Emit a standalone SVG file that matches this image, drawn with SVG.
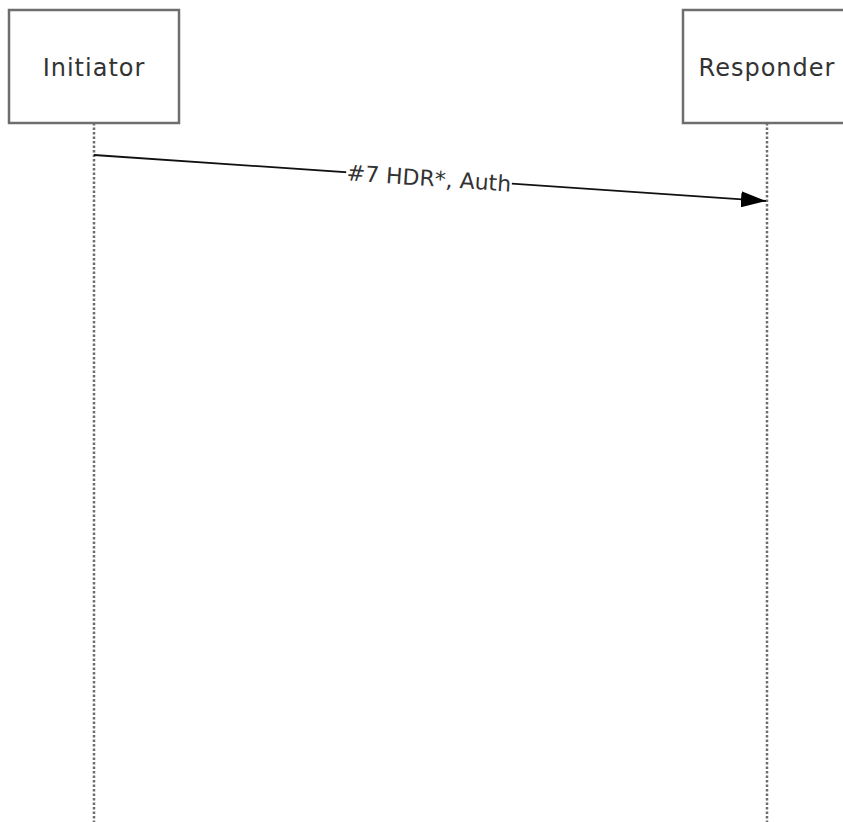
<svg xmlns="http://www.w3.org/2000/svg" width="843" height="822" viewBox="0 0 843 822">
<style>
.box{fill:#fff;stroke:#6e6e6e;stroke-width:2.5}
.life{stroke:#6e6e6e;stroke-width:2.5;stroke-dasharray:2.5 2;fill:none}
.lbl{font-family:"DejaVu Sans",Verdana,sans-serif;font-size:24px;letter-spacing:1px;fill:#333}
.msg{font-family:"DejaVu Sans",Verdana,sans-serif;font-size:22px;fill:#333}
</style>
<defs>
<marker id="ah" markerWidth="25" markerHeight="16" refX="25" refY="8" orient="auto" markerUnits="userSpaceOnUse"><path d="M0,0 L25,8 L0,16 Z" fill="#000"/></marker>
</defs>
<rect width="843" height="822" fill="#fff"/>
<g id="initiator">
<rect class="box" x="9" y="10" width="170" height="113"/>
<text class="lbl" x="94" y="76" text-anchor="middle">Initiator</text>
<line class="life" x1="94" y1="123" x2="94" y2="822"/>
</g>
<g id="responder">
<rect class="box" x="683" y="10" width="170" height="113"/>
<text class="lbl" x="767" y="76" text-anchor="middle">Responder</text>
<line class="life" x1="767" y1="123" x2="767" y2="822"/>
</g>
<g id="connectors">
<line x1="94" y1="155" x2="766" y2="201" stroke="#111" stroke-width="1.8" marker-end="url(#ah)"/>
<g transform="rotate(3.91 429 178)">
<rect x="346" y="166" width="166" height="24" fill="#fff"/>
<text class="msg" x="429" y="186" text-anchor="middle">#7 HDR*, Auth</text>
</g>
</g>
</svg>
